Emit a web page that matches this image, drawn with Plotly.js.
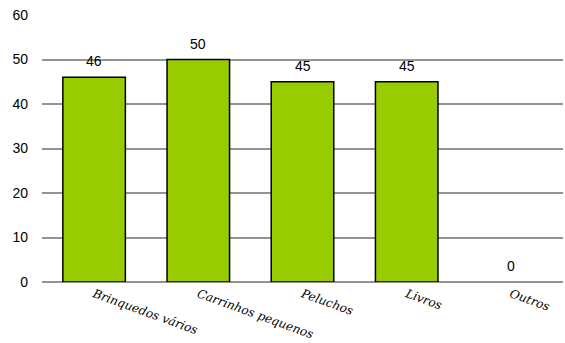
<!DOCTYPE html>
<html><head><meta charset="utf-8">
<script src="https://cdn.plot.ly/plotly-3.0.1.min.js"></script>
<style>html,body{margin:0;padding:0;background:#fff}#c{width:565px;height:343px}</style>
</head><body><div id="c"></div>
<script>
const categories = ["Brinquedos vários", "Carrinhos pequenos", "Peluchos", "Livros", "Outros"];
const values = [46, 50, 45, 45, 0];
const yTicks = [0, 10, 20, 30, 40, 50, 60];

const trace = {
  type: 'bar',
  x: categories,
  y: values,
  marker: {color: '#99CC00', line: {color: '#000', width: values.map(v => v > 0 ? 1.5 : 0)}},
  hoverinfo: 'none'
};
const annotations = categories.map((c, i) => ({
  x: c, y: values[i], xref: 'x', yref: 'y',
  text: String(values[i]), showarrow: false,
  yanchor: 'bottom', yshift: 6,
  font: {family: 'Liberation Sans, Arial, sans-serif', size: 14, color: '#000'}
}));
const layout = {
  width: 565, height: 343,
  margin: {l: 42, r: 2, t: 15, b: 61},
  paper_bgcolor: '#fff', plot_bgcolor: '#fff',
  showlegend: false,
  bargap: 0.4,
  annotations: annotations,
  xaxis: {
    tickangle: 20,
    tickfont: {family: 'DejaVu Serif', size: 12, color: '#000', style: 'italic'},
    showline: false, showgrid: false, ticks: '', zeroline: false,
    ticklabelstandoff: 2,
    fixedrange: true
  },
  yaxis: {
    range: [0, 60],
    tickvals: yTicks,
    ticktext: yTicks.map(String),
    tickfont: {family: 'Liberation Sans, Arial, sans-serif', size: 14, color: '#000'},
    showgrid: true, gridcolor: '#939393', gridwidth: 2,
    zeroline: true, zerolinecolor: '#939393', zerolinewidth: 2,
    showline: false, ticks: '', ticklabelstandoff: 13,
    fixedrange: true
  }
};
Plotly.newPlot('c', [trace], layout, {displayModeBar: false, staticPlot: true});
</script></body></html>
